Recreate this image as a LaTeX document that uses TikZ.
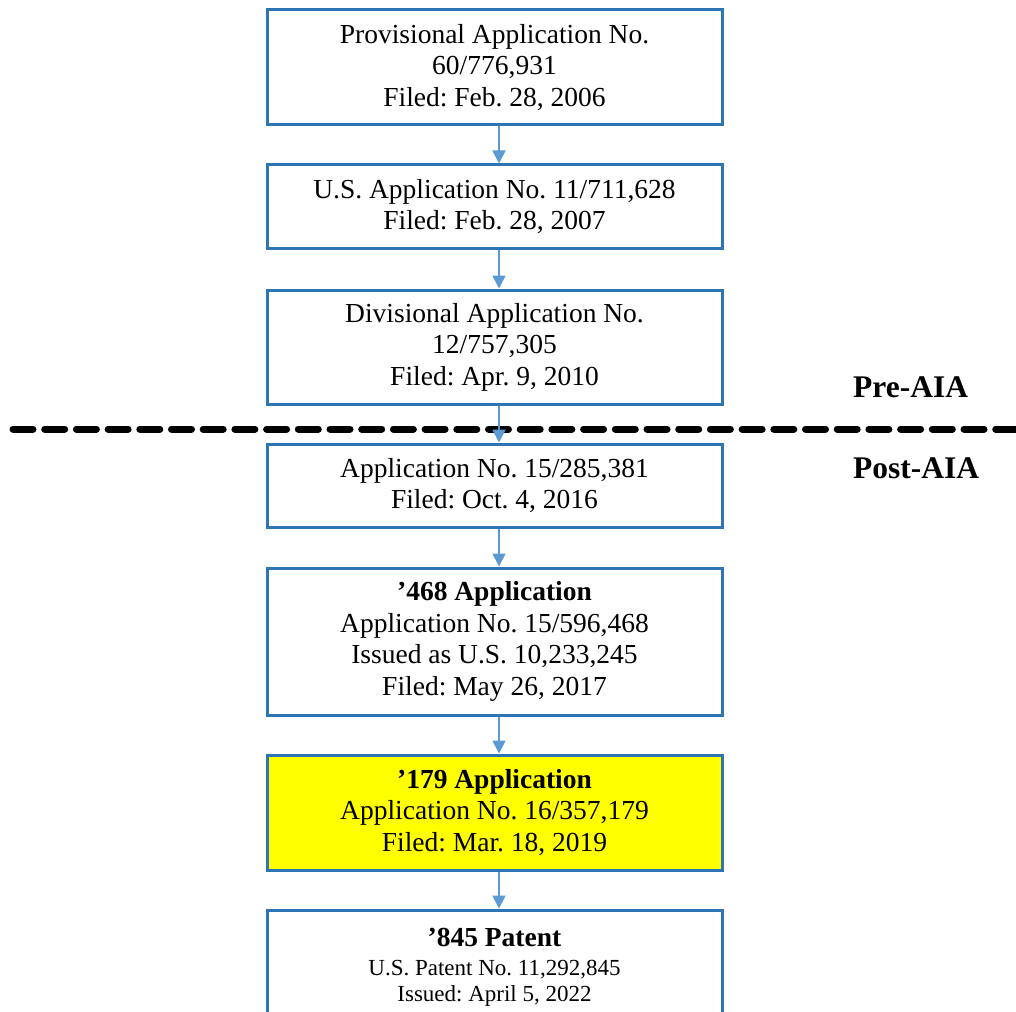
\documentclass[tikz,border=0pt]{standalone}
\usepackage{fontspec}
\setmainfont{Liberation Serif}
\usetikzlibrary{arrows.meta,calc}
\definecolor{boxblue}{RGB}{46,117,182}
\definecolor{arrblue}{RGB}{91,155,213}
\definecolor{hiyellow}{RGB}{255,255,0}
\frenchspacing
\tikzset{
  appbox/.style={draw=boxblue, line width=3pt, fill=white, minimum width=455pt, align=center, inner sep=0pt,
     font=\fontsize{27.5}{31.5}\selectfont},
  flow/.style={draw=arrblue, line width=1.8pt, -{Triangle[length=13pt,width=13pt]}},
  phase/.style={font=\fontsize{31.5}{34}\selectfont\bfseries, anchor=west, inner sep=0pt},
}
\begin{document}
\begin{tikzpicture}[x=1pt,y=-1pt]
\useasboundingbox (0,0) rectangle (1016,1011);
\draw[line width=7pt, line cap=round, dash pattern=on 20pt off 11.7pt] (13,429) -- (1030,429);
\node[appbox, minimum height=115pt] (p1) at (494.5,67.5) {Provisional Application No.\\60/776,931\\Filed: Feb. 28, 2006};
\node[appbox, minimum height=83pt] (p2) at (494.5,206.5) {U.S. Application No. 11/711,628\\Filed: Feb. 28, 2007};
\node[appbox, minimum height=114pt] (p3) at (494.5,347) {Divisional Application No.\\12/757,305\\Filed: Apr. 9, 2010};
\node[appbox, minimum height=83pt] (p4) at (494.5,485.5) {Application No. 15/285,381\\Filed: Oct. 4, 2016};
\node[appbox, minimum height=147pt] (p5) at (494.5,641.5) {\textbf{’468 Application}\\Application No. 15/596,468\\Issued as U.S. 10,233,245\\Filed: May 26, 2017};
\node[appbox, minimum height=115pt, fill=hiyellow] (p6) at (494.5,812.5) {\textbf{’179 Application}\\Application No. 16/357,179\\Filed: Mar. 18, 2019};
\node[appbox, minimum height=115pt] (p7) at (494.5,967.5) {\textbf{’845 Patent}\\[-3pt]{\fontsize{23}{27}\selectfont U.S. Patent No. 11,292,845}\\[-5pt]{\fontsize{23}{27}\selectfont Issued: April 5, 2022}};
\coordinate (ax) at (499,0);
\draw[flow] (p1.south -| ax) -- (p2.north -| ax);
\draw[flow] (p2.south -| ax) -- (p3.north -| ax);
\draw[flow] (p3.south -| ax) -- (p4.north -| ax);
\draw[flow] (p4.south -| ax) -- (p5.north -| ax);
\draw[flow] (p5.south -| ax) -- (p6.north -| ax);
\draw[flow] (p6.south -| ax) -- (p7.north -| ax);
\node[phase] (pre) at (853,387) {Pre-AIA};
\node[phase] (post) at (853,468) {Post-AIA};
\end{tikzpicture}
\end{document}
